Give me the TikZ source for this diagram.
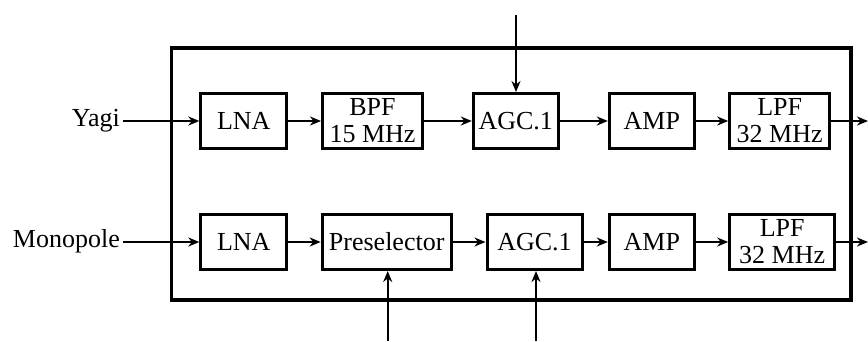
\documentclass[tikz,border=0pt]{standalone}
\usepackage{fontspec}
\setmainfont{Liberation Serif}
\usetikzlibrary{arrows.meta}
\begin{document}
\begin{tikzpicture}[x=1pt,y=-1pt,
  blk/.style={draw,line width=3pt,minimum height=55pt,inner sep=0pt,align=center,
    font=\fontsize{26}{27}\selectfont},
  lbl/.style={inner sep=3pt,font=\fontsize{26}{27}\selectfont},
  sig/.style={line width=2.4pt,-{Stealth[length=11pt,width=9pt,inset=3.5pt]}},
  frame/.style={draw,line width=3.2pt}]
\useasboundingbox (0,0) rectangle (868,341);
\draw[frame] (171.5,48) rectangle (851,300);
% top row
\node[blk,minimum width=86pt]  (lna1) at (243.8,121) {LNA};
\node[blk,minimum width=100pt] (bpf)  at (372.5,121) {BPF\\15 MHz};
\node[blk,minimum width=85pt]  (agc1) at (515.8,121) {AGC.1};
\node[blk,minimum width=85pt]  (amp1) at (651.8,121) {AMP};
\node[blk,minimum width=100pt] (lpf1) at (779.7,121) {LPF\\32 MHz};
% bottom row
\node[blk,minimum width=86pt]  (lna2) at (243.8,242) {LNA};
\node[blk,minimum width=129pt] (pre)  at (386.7,242) {Preselector};
\node[blk,minimum width=95pt]  (agc2) at (534.5,242) {AGC.1};
\node[blk,minimum width=85pt]  (amp2) at (651.8,242) {AMP};
\node[blk,minimum width=105pt] (lpf2) at (782.2,242) {LPF\\32 MHz};
% inputs
\node[lbl,anchor=base east] (yagi) at (123,126) {Yagi};
\node[lbl,anchor=base east] (mono) at (123,247) {Monopole};
% free ends
\coordinate (out1) at (868,121);
\coordinate (out2) at (868,242);
\coordinate (ctl1) at (516,15);
\coordinate (ctl2) at (387.7,341);
\coordinate (ctl3) at (536,341);
% connectors
\draw[sig] (yagi.east |- lna1.west) -- (lna1.west);
\draw[sig] (lna1) -- (bpf);
\draw[sig] (bpf) -- (agc1);
\draw[sig] (agc1) -- (amp1);
\draw[sig] (amp1) -- (lpf1);
\draw[sig] (lpf1) -- (out1);
\draw[sig] (mono.east |- lna2.west) -- (lna2.west);
\draw[sig] (lna2) -- (pre);
\draw[sig] (pre) -- (agc2);
\draw[sig] (agc2) -- (amp2);
\draw[sig] (amp2) -- (lpf2);
\draw[sig] (lpf2) -- (out2);
\draw[sig] (ctl1) -- (ctl1 |- agc1.north);
\draw[sig] (ctl2) -- (ctl2 |- pre.south);
\draw[sig] (ctl3) -- (ctl3 |- agc2.south);
\end{tikzpicture}
\end{document}
